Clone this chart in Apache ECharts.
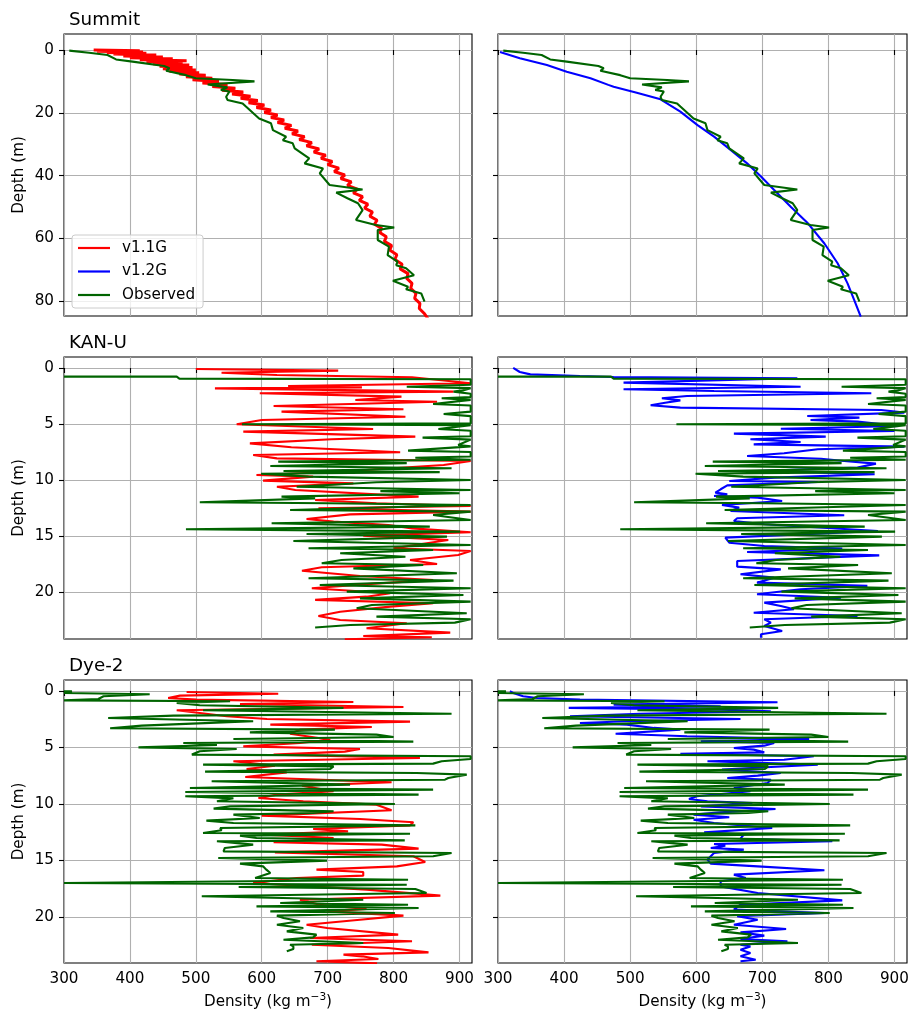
<!DOCTYPE html>
<html><head><meta charset="utf-8">
<script src="https://cdn.jsdelivr.net/npm/echarts@6/dist/echarts.min.js"></script>
<style>html,body{margin:0;padding:0;background:#fff}#c{width:910px;height:1012px}</style>
</head><body><div id="c"></div>
<script>
// ---------- tick labels / categories ----------
const sites = ['Summit', 'KAN-U', 'Dye-2'];
const xTicks = [300, 400, 500, 600, 700, 800, 900];
const summitTicks = [0, 20, 40, 60, 80];
const siteTicks = [0, 5, 10, 15, 20];
const seriesNames = ['v1.1G', 'v1.2G', 'Observed'];

// ---------- data: [density (kg m-3), depth (m)] ----------
const summitV11 = [[345,0.0],[415,0.2],[350,0.4],[420,0.6],[365,0.8],[425,1.0],[375,1.3],[440,1.6],[390,1.9],[450,2.2],[400,2.5],[465,2.8],[415,3.1],[486,3.4],[425,3.7],[480,4.0],[435,4.4],[490,4.8],[445,5.2],[495,5.6],[450,6.0],[500,6.4],[460,6.8],[505,7.2],[475,7.6],[515,8.0],[485,8.5],[525,9.0],[495,9.5],[535,10.0],[510,10.5],[548,11.0],[525,11.6],[560,12.2],[540,12.8],[572,13.4],[555,14.0],[583,14.7],[568,15.4],[594,16.1],[580,16.8],[604,17.5],[592,18.3],[614,19.1],[604,19.9],[624,20.7],[614,21.5],[634,22.3],[624,23.1],[645,24.0],[635,24.9],[655,25.8],[646,26.7],[665,27.6],[657,28.5],[676,29.5],[668,30.5],[687,31.5],[679,32.5],[697,33.5],[690,34.5],[707,35.5],[700,36.5],[717,37.6],[710,38.7],[726,39.8],[720,40.9],[736,42.0],[730,43.1],[745,44.3],[739,45.5],[753,46.7],[748,47.9],[761,49.1],[756,50.3],[768,51.6],[764,52.9],[775,54.2],[771,55.5],[782,56.8],[779,58.1],[789,59.5],[786,60.9],[797,62.3],[794,63.7],[805,65.2],[802,66.7],[813,68.2],[810,69.7],[822,71.2],[820,72.7],[828,74.3],[826,75.9],[834,77.5],[832,79.1],[840,80.7],[839,82.3],[847,84.0],[852,85.5]];
const summitV12 = [[303,0.6],[333,2.6],[374,4.8],[404,6.9],[440,9.0],[467,11.1],[475,11.7],[510,13.6],[546,15.7],[576,19.6],[602,23.9],[627,27.6],[652,31.8],[677,36.1],[698,40.3],[718,44.6],[743,49.9],[769,55.2],[794,61.6],[814,67.9],[829,74.3],[839,79.6],[849,84.9]];
const summitObs = [[308,0.2],[338,0.86],[366,1.6],[379,3.0],[404,3.7],[452,5.1],[460,5.8],[455,6.6],[485,8.0],[500,9.0],[556,9.55],[589,10.0],[518,11.0],[548,11.9],[538,12.7],[551,13.2],[546,14.9],[548,15.9],[571,17.0],[576,18.0],[596,21.8],[614,23.3],[617,25.5],[637,27.6],[632,28.7],[647,29.7],[650,31.3],[672,34.5],[665,36.1],[693,37.7],[688,39.3],[703,43.0],[753,44.4],[713,45.4],[730,47.2],[746,48.8],[753,51.0],[743,54.1],[773,55.7],[801,56.5],[776,57.3],[776,60.5],[793,62.6],[791,65.3],[806,67.4],[804,68.5],[819,69.5],[831,71.7],[799,73.5],[822,75.4],[819,76.2],[842,77.5],[847,80.1]];

const kanuV11 = [[500,0.09],[716,0.24],[539,0.42],[623,0.63],[828,0.83],[917,1.37],[640,1.61],[752,1.73],[529,1.82],[891,2.11],[597,2.26],[812,2.56],[742,2.86],[866,3.01],[618,3.39],[815,3.69],[630,3.90],[818,4.35],[600,4.64],[562,5.03],[769,5.45],[572,5.68],[833,6.13],[706,6.37],[582,6.73],[645,7.08],[810,7.53],[587,7.77],[623,8.07],[917,8.30],[876,8.66],[716,9.26],[592,9.55],[678,9.70],[602,10.06],[739,10.30],[623,10.60],[651,10.89],[838,11.49],[681,11.79],[774,12.08],[917,12.32],[686,12.53],[917,12.83],[734,13.07],[668,13.48],[709,13.72],[792,14.02],[828,14.32],[917,14.67],[754,14.97],[883,15.36],[800,16.10],[917,16.34],[898,16.70],[825,17.14],[866,17.50],[691,17.80],[661,18.10],[749,18.57],[860,18.93],[754,19.32],[676,19.67],[795,20.12],[759,20.42],[681,20.71],[860,21.01],[795,21.31],[719,21.76],[686,22.14],[719,22.50],[820,22.80],[759,23.24],[886,23.63],[754,23.93],[858,24.05],[726,24.23]];
const kanuV12 = [[323,0.0],[333,0.36],[349,0.57],[424,0.71],[475,0.80],[753,0.92],[490,1.31],[758,1.67],[490,1.90],[627,2.05],[865,2.26],[586,2.50],[548,2.71],[576,2.89],[553,3.10],[531,3.33],[576,3.54],[880,3.75],[915,3.99],[768,4.29],[847,4.43],[773,4.64],[844,4.79],[907,5.18],[728,5.42],[900,5.63],[657,5.86],[796,6.13],[682,6.37],[758,6.61],[687,6.82],[915,7.02],[784,7.26],[733,7.62],[677,7.86],[789,8.10],[824,8.30],[872,8.54],[844,8.90],[692,9.20],[870,9.49],[718,9.79],[650,10.09],[784,10.18],[647,10.48],[637,10.83],[629,11.13],[647,11.28],[627,11.43],[693,11.58],[730,11.88],[639,12.23],[665,12.47],[652,12.77],[824,13.15],[662,13.42],[657,13.66],[703,13.96],[875,14.55],[644,15.15],[650,15.60],[703,15.89],[821,16.13],[677,16.43],[877,16.73],[662,17.23],[662,17.74],[728,17.98],[667,18.42],[718,18.72],[692,19.17],[859,19.46],[758,19.76],[692,20.21],[819,20.51],[703,20.95],[728,21.25],[748,21.55],[687,21.85],[844,22.14],[703,22.44],[713,22.74],[703,23.04],[730,23.48],[698,23.78],[698,24.08]];
const kanuObs = [[300,0.77],[471,0.77],[475,0.95],[917,1.01],[917,1.5],[820,1.67],[917,1.8],[905,2.0],[891,2.11],[917,2.3],[917,2.6],[873,2.71],[917,2.85],[860,3.21],[917,3.35],[917,3.9],[876,4.11],[917,4.3],[917,4.95],[570,5.03],[917,5.1],[868,5.45],[917,5.6],[917,6.1],[844,6.22],[917,6.4],[898,6.88],[917,7.0],[822,7.38],[917,7.5],[917,7.9],[833,8.01],[917,8.2],[625,8.36],[820,8.5],[613,8.75],[888,8.96],[633,9.2],[870,9.3],[599,9.45],[597,9.55],[671,9.70],[917,10.0],[774,10.2],[653,10.6],[917,10.89],[780,11.0],[900,11.19],[630,11.49],[681,11.64],[506,11.99],[700,12.08],[917,12.23],[643,12.68],[917,12.83],[860,13.13],[917,13.57],[615,13.87],[855,14.17],[485,14.40],[901,14.61],[668,14.82],[881,15.06],[648,15.45],[917,15.80],[671,16.10],[860,16.25],[719,16.55],[818,16.85],[721,17.14],[691,17.44],[845,17.59],[739,17.89],[896,18.33],[671,18.78],[891,18.99],[688,19.38],[917,19.67],[729,19.97],[906,20.27],[749,20.57],[917,20.86],[767,21.16],[744,21.46],[911,21.90],[774,22.20],[917,22.44],[893,22.74],[734,22.95],[681,23.18]];

const dye2V11 = [[486,0.09],[625,0.24],[476,0.41],[458,0.62],[501,0.77],[739,0.97],[567,1.15],[815,1.42],[471,1.71],[506,1.95],[547,2.24],[608,2.48],[825,2.71],[613,2.98],[767,3.19],[658,3.42],[643,3.78],[704,4.31],[658,4.60],[572,4.90],[749,5.13],[726,5.37],[618,5.63],[840,5.93],[557,6.22],[620,6.61],[577,6.90],[638,7.20],[575,7.61],[797,8.08],[661,8.38],[709,8.88],[623,9.17],[595,9.47],[663,9.76],[774,10.06],[797,10.56],[600,11.03],[749,11.33],[830,11.62],[825,11.89],[678,12.21],[731,12.42],[605,12.71],[709,13.01],[618,13.39],[782,13.60],[838,13.95],[620,14.28],[830,14.63],[848,15.13],[805,15.52],[683,15.81],[754,16.02],[754,16.34],[653,16.55],[587,16.99],[759,17.58],[871,18.11],[658,18.47],[688,18.91],[759,19.29],[699,19.50],[815,19.88],[749,20.24],[668,20.68],[699,20.97],[807,21.56],[673,21.86],[828,22.15],[676,22.45],[792,22.74],[853,23.13],[724,23.33],[752,23.48],[777,23.72],[683,23.92],[775,24.1]];
const dye2V12 = [[318,0.03],[323,0.18],[338,0.47],[359,0.62],[424,0.77],[723,1.0],[475,1.21],[637,1.36],[407,1.50],[637,1.65],[713,1.80],[515,2.01],[409,2.24],[667,2.48],[495,2.68],[424,2.83],[495,2.98],[536,3.27],[576,3.42],[478,3.78],[586,4.01],[771,4.25],[607,4.45],[718,4.60],[703,4.84],[657,5.04],[687,5.19],[703,5.43],[576,5.55],[778,5.78],[733,6.08],[617,6.22],[784,6.52],[713,6.73],[639,6.96],[728,7.26],[693,7.49],[647,7.70],[713,7.85],[708,8.14],[657,8.58],[682,8.88],[601,9.32],[589,9.56],[617,9.76],[685,9.91],[607,10.21],[720,10.44],[637,10.74],[596,10.94],[650,11.18],[596,11.39],[627,11.68],[715,12.12],[612,12.51],[672,12.71],[667,13.07],[806,13.30],[627,13.54],[644,13.69],[622,13.89],[672,14.04],[627,14.34],[622,14.63],[617,14.93],[622,15.28],[693,15.52],[794,15.87],[657,16.25],[675,16.55],[637,16.84],[637,17.29],[693,17.88],[821,18.53],[667,18.91],[657,19.35],[794,19.65],[662,19.94],[693,20.24],[657,20.68],[736,21.06],[667,21.36],[703,21.65],[667,21.95],[738,22.15],[667,22.45],[682,22.60],[667,22.89],[682,23.19],[667,23.48],[690,23.78],[667,23.92]];
const dye2Obs = [[300,0.03],[312,0.03],[300,0.18],[430,0.29],[360,0.47],[352,0.71],[300,0.83],[552,0.91],[471,1.06],[506,1.27],[724,1.50],[511,1.71],[888,2.01],[466,2.18],[367,2.39],[587,2.68],[494,2.89],[418,3.07],[370,3.30],[711,3.42],[582,3.66],[774,3.86],[800,4.07],[557,4.25],[830,4.48],[481,4.60],[532,4.78],[413,4.99],[562,5.13],[506,5.34],[494,5.63],[917,5.78],[917,6.02],[873,6.22],[860,6.43],[511,6.52],[709,6.67],[704,6.90],[514,7.14],[835,7.26],[911,7.40],[883,7.70],[878,7.85],[524,7.99],[734,8.29],[491,8.58],[860,8.73],[484,8.94],[838,9.17],[484,9.32],[557,9.50],[532,9.76],[802,10.0],[552,10.21],[527,10.41],[709,10.65],[678,10.80],[557,10.94],[597,11.24],[516,11.47],[557,11.68],[833,11.89],[537,12.12],[539,12.33],[511,12.57],[825,12.63],[567,12.80],[592,13.01],[817,13.22],[532,13.30],[587,13.60],[544,13.89],[542,14.19],[888,14.34],[860,14.63],[534,14.78],[699,15.01],[567,15.28],[602,15.52],[607,15.81],[613,16.11],[590,16.55],[822,16.70],[300,16.99],[820,17.14],[565,17.35],[833,17.52],[850,17.88],[509,18.17],[754,18.47],[628,18.76],[822,18.91],[592,19.06],[838,19.20],[613,19.50],[802,19.65],[623,19.88],[633,20.09],[658,20.38],[623,20.68],[663,20.97],[638,21.27],[683,21.56],[678,21.80],[633,22.01],[754,22.30],[643,22.45],[648,22.60],[648,22.83],[638,23.04]];

// ---------- layout ----------
const FONT = 'DejaVu Sans';
const rowTop = [34, 357, 680];
const rowH = [282, 282, 283];
const colLeft = [64, 498];
const colW = [408, 409];
const yRange = [[-5.1, 84.7], [-0.98, 24.2], [-0.97, 24.07]];
const yTicks = [summitTicks, siteTicks, siteTicks];
const modelData = [[summitV11, summitV12], [kanuV11, kanuV12], [dye2V11, dye2V12]];
const obsData = [summitObs, kanuObs, dye2Obs];
const modelColors = ['#ff0000', '#0000ff'];
const obsColor = '#006400';

const grid = [], xAxis = [], yAxis = [], series = [], title = [];
for (let r = 0; r < 3; r++) {
  title.push({
    text: sites[r], left: 64, top: rowTop[r] - 28,
    textStyle: { fontFamily: FONT, fontSize: 18.3, fontWeight: 'normal', color: '#000' }
  });
  for (let c = 0; c < 2; c++) {
    const i = r * 2 + c;
    grid.push({
      left: colLeft[c], top: rowTop[r], width: colW[c], height: rowH[r],
      show: true, borderColor: '#000', borderWidth: 1.1, backgroundColor: 'transparent',
      containLabel: false, outerBoundsMode: 'none'
    });
    xAxis.push({
      type: 'value', gridIndex: i, min: 300, max: 919, interval: 100,
      axisLine: { show: false },
      axisTick: { show: true, customValues: xTicks, length: 5, inside: false, lineStyle: { color: '#000', width: 1.1 } },
      axisLabel: { show: r === 2, customValues: xTicks, margin: 9, fontFamily: FONT, fontSize: 15.2, color: '#000' },
      splitLine: { show: true, lineStyle: { color: '#b0b0b0', width: 1.1 } },
      name: r === 2 ? 'Density (kg m{sup|\u22123})' : '',
      nameLocation: 'middle', nameGap: 29, nameMoveOverlap: false,
      nameTextStyle: {
        fontFamily: FONT, fontSize: 15.2, color: '#000', lineHeight: 20,
        rich: { sup: { fontFamily: FONT, fontSize: 10.6, color: '#000', verticalAlign: 'top', lineHeight: 20 } }
      }
    });
    yAxis.push({
      type: 'value', gridIndex: i, inverse: true, min: yRange[r][0], max: yRange[r][1],
      axisLine: { show: false },
      axisTick: { show: true, customValues: yTicks[r], length: 5, inside: false, lineStyle: { color: '#000', width: 1.1 } },
      axisLabel: { show: c === 0, customValues: yTicks[r], margin: 10, fontFamily: FONT, fontSize: 15.2, color: '#000' },
      splitLine: { show: true, lineStyle: { color: '#b0b0b0', width: 1.1 } },
      name: c === 0 ? 'Depth (m)' : '',
      nameLocation: 'middle', nameGap: 37, nameRotate: 90, nameMoveOverlap: false,
      nameTextStyle: { fontFamily: FONT, fontSize: 15.2, color: '#000' }
    });
    const mw = (r === 0 && c === 0) ? 3 : 2.1;
    series.push({
      type: 'line', name: seriesNames[c], xAxisIndex: i, yAxisIndex: i,
      data: modelData[r][c], showSymbol: false, symbol: 'none', clip: true,
      color: modelColors[c], itemStyle: { color: modelColors[c] },
      lineStyle: { color: modelColors[c], width: mw }, z: 2, animation: false
    });
    series.push({
      type: 'line', name: seriesNames[2], xAxisIndex: i, yAxisIndex: i,
      data: obsData[r], showSymbol: false, symbol: 'none', clip: true,
      color: obsColor, itemStyle: { color: obsColor },
      lineStyle: { color: obsColor, width: 2.1 }, z: 3, animation: false
    });
  }
}

const chart = echarts.init(document.getElementById('c'), null, { renderer: 'canvas' });
chart.setOption({
  backgroundColor: '#ffffff',
  animation: false,
  title: title,
  grid: grid,
  xAxis: xAxis,
  yAxis: yAxis,
  legend: {
    show: true, data: seriesNames, orient: 'vertical', left: 72, top: 235,
    icon: 'rect', itemWidth: 32, itemHeight: 2.2, itemGap: 7.5,
    padding: [5, 8, 5, 6], borderColor: '#cccccc', borderWidth: 1, borderRadius: 3,
    backgroundColor: 'rgba(255,255,255,0.8)', selectedMode: false,
    textStyle: { fontFamily: FONT, fontSize: 15.2, color: '#000', lineHeight: 16, padding: [0, 0, 0, 7] }
  },
  series: series
});
</script></body></html>
